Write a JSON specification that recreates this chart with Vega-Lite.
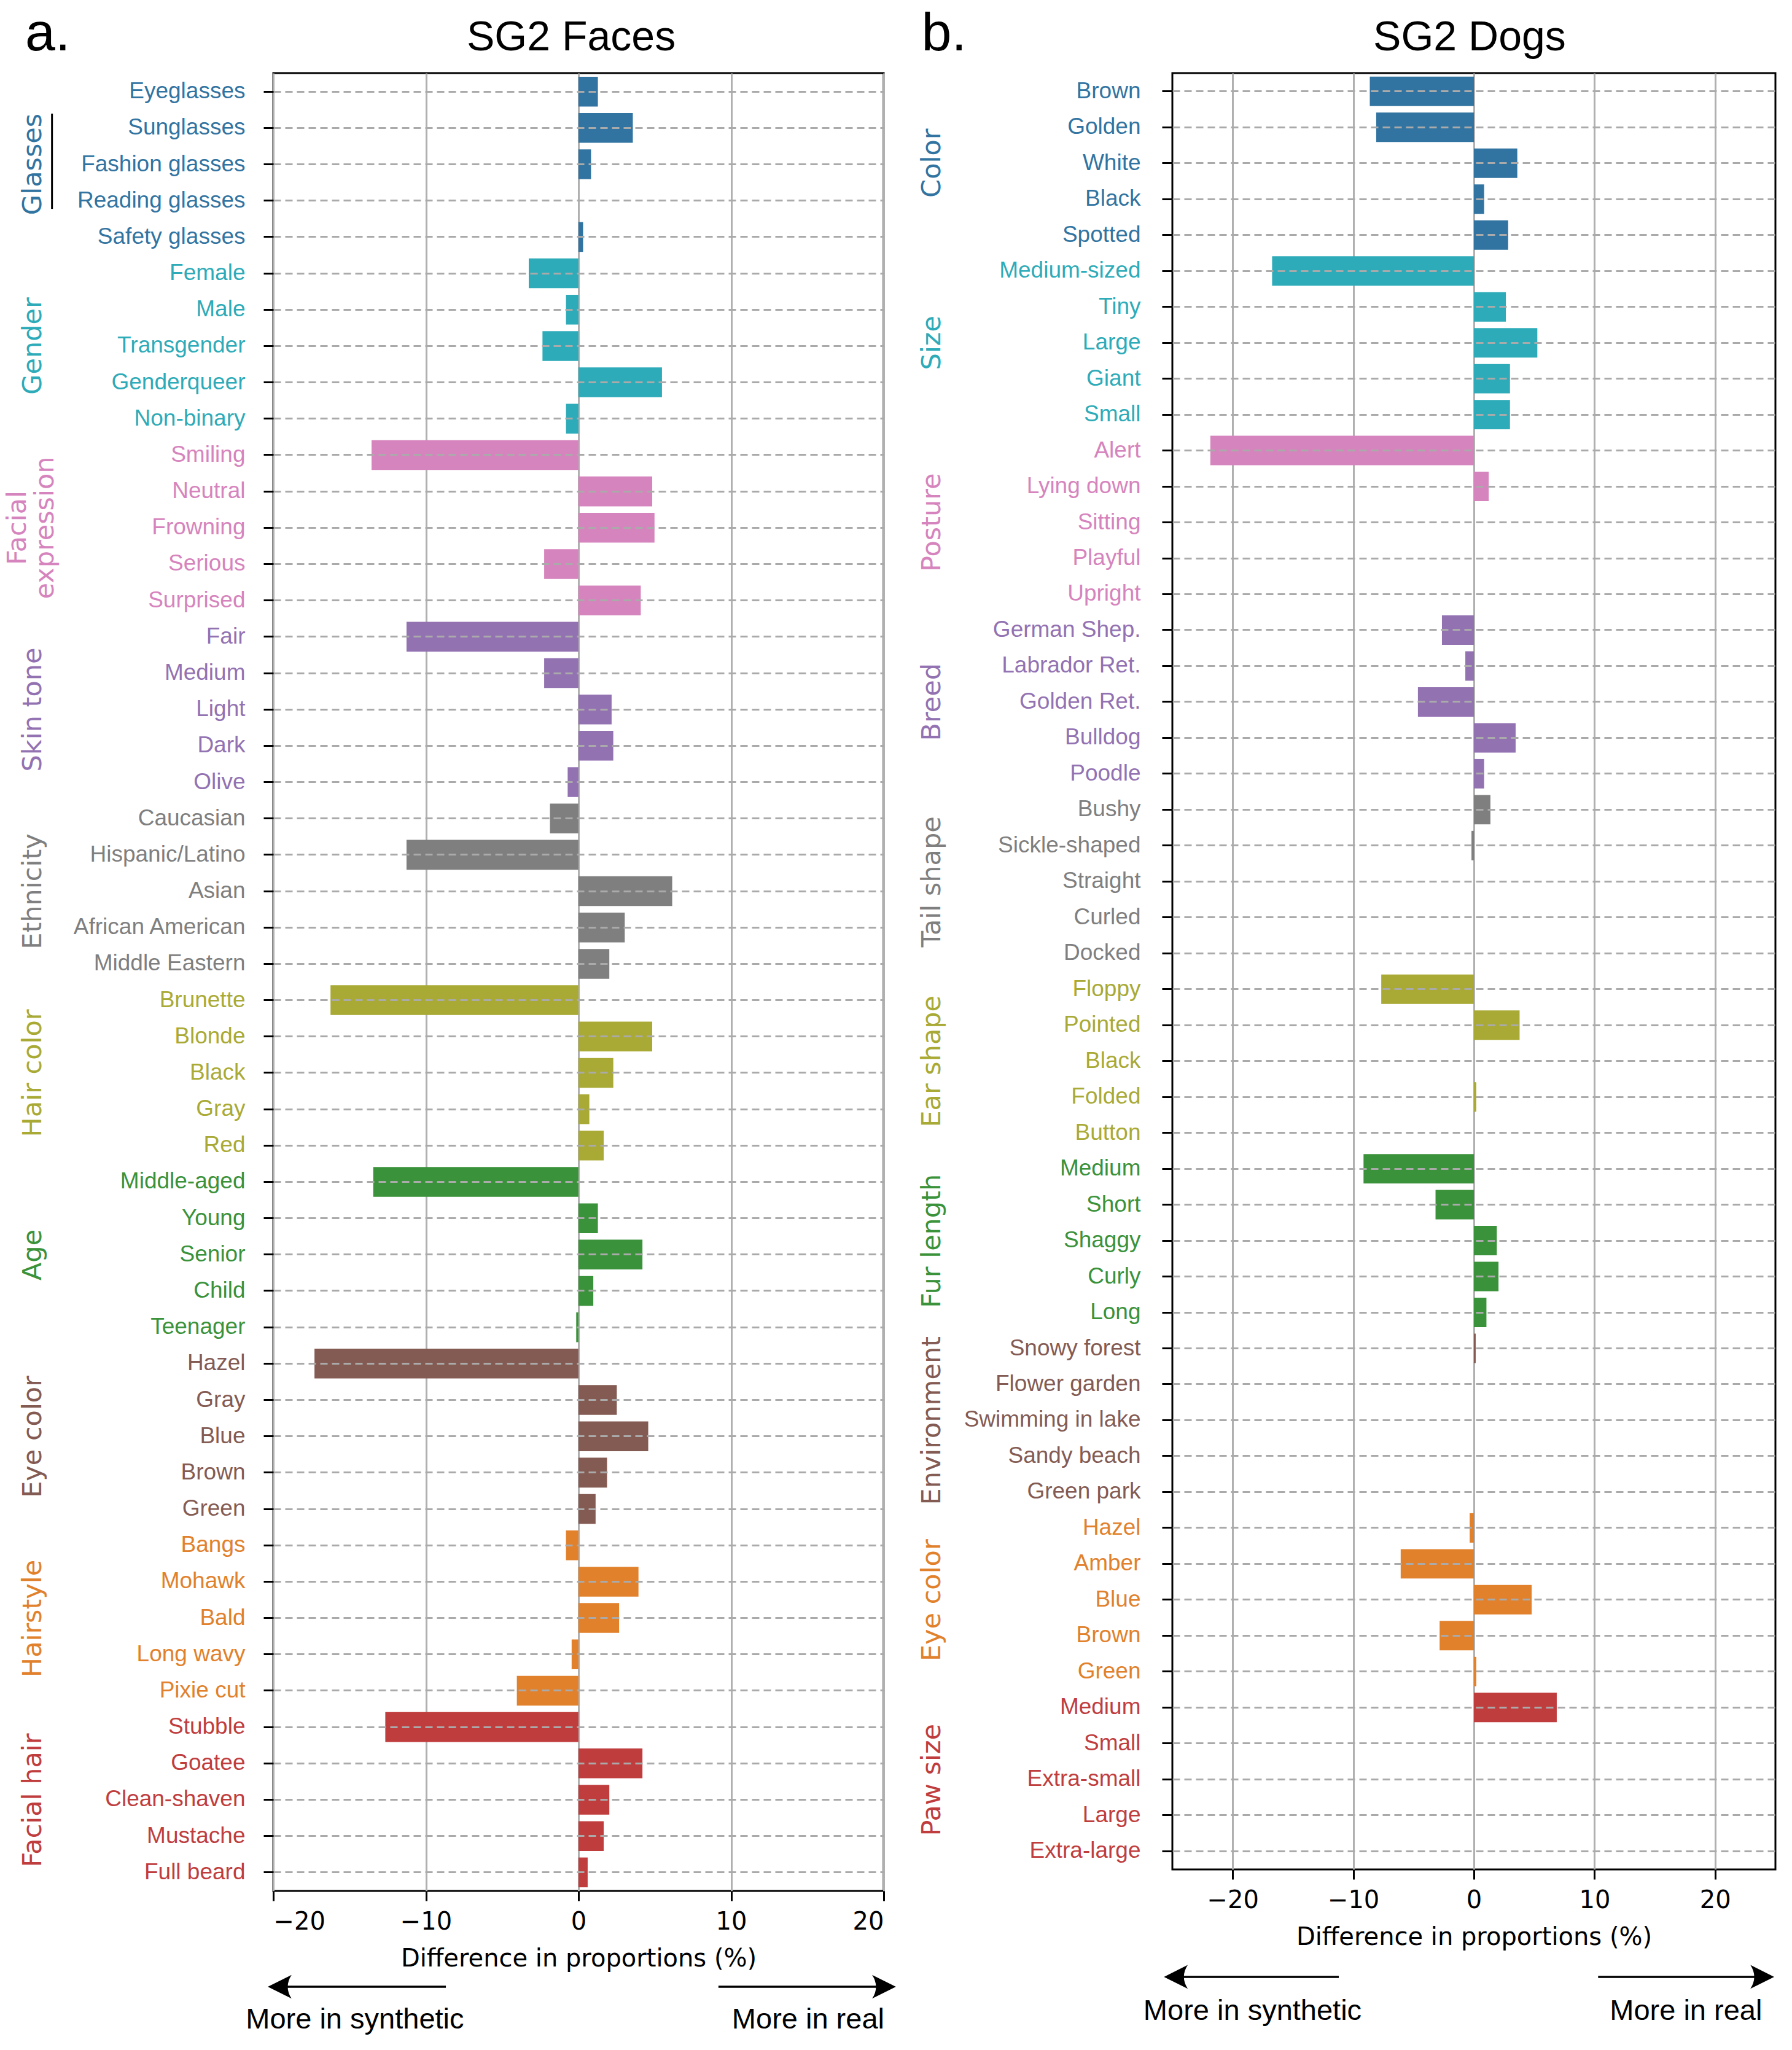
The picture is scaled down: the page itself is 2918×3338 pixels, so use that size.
{
  "$schema": "https://vega.github.io/schema/vega-lite/v6.json",
  "background": "white",
  "padding": {"left": 5, "top": 10, "right": 5, "bottom": 5},
  "spacing": 33,
  "resolve": {"scale": {"color": "independent"}},
  "config": {
    "view": {"stroke": "black", "strokeWidth": 3},
    "axisX": {"tickCount": 4, "grid": true, "gridColor": "#b0b0b0", "gridWidth": 3, "domain": false, "tickColor": "black", "tickSize": 16, "tickWidth": 3, "labelFont": "DejaVu Sans", "labelFontSize": 40, "labelColor": "black", "labelPadding": 14, "titleFont": "DejaVu Sans", "titleFontSize": 40, "titleFontWeight": "normal", "titleColor": "black", "titlePadding": 20, "zindex": 1}
  },
  "hconcat": [
    {
      "width": 994,
      "height": 2960,
      "data": {"values": [
        {"g": "Glasses", "i": "Eyeglasses", "k": "Glasses|Eyeglasses", "d": 1.27},
        {"g": "Glasses", "i": "Sunglasses", "k": "Glasses|Sunglasses", "d": 3.56},
        {"g": "Glasses", "i": "Fashion glasses", "k": "Glasses|Fashion glasses", "d": 0.82},
        {"g": "Glasses", "i": "Reading glasses", "k": "Glasses|Reading glasses", "d": 0},
        {"g": "Glasses", "i": "Safety glasses", "k": "Glasses|Safety glasses", "d": 0.3},
        {"g": "Gender", "i": "Female", "k": "Gender|Female", "d": -3.26},
        {"g": "Gender", "i": "Male", "k": "Gender|Male", "d": -0.82},
        {"g": "Gender", "i": "Transgender", "k": "Gender|Transgender", "d": -2.36},
        {"g": "Gender", "i": "Genderqueer", "k": "Gender|Genderqueer", "d": 5.47},
        {"g": "Gender", "i": "Non-binary", "k": "Gender|Non-binary", "d": -0.82},
        {"g": "Facial expression", "i": "Smiling", "k": "Facial expression|Smiling", "d": -13.56},
        {"g": "Facial expression", "i": "Neutral", "k": "Facial expression|Neutral", "d": 4.83},
        {"g": "Facial expression", "i": "Frowning", "k": "Facial expression|Frowning", "d": 4.98},
        {"g": "Facial expression", "i": "Serious", "k": "Facial expression|Serious", "d": -2.25},
        {"g": "Facial expression", "i": "Surprised", "k": "Facial expression|Surprised", "d": 4.08},
        {"g": "Skin tone", "i": "Fair", "k": "Skin tone|Fair", "d": -11.27},
        {"g": "Skin tone", "i": "Medium", "k": "Skin tone|Medium", "d": -2.25},
        {"g": "Skin tone", "i": "Light", "k": "Skin tone|Light", "d": 2.17},
        {"g": "Skin tone", "i": "Dark", "k": "Skin tone|Dark", "d": 2.28},
        {"g": "Skin tone", "i": "Olive", "k": "Skin tone|Olive", "d": -0.71},
        {"g": "Ethnicity", "i": "Caucasian", "k": "Ethnicity|Caucasian", "d": -1.87},
        {"g": "Ethnicity", "i": "Hispanic/Latino", "k": "Ethnicity|Hispanic/Latino", "d": -11.27},
        {"g": "Ethnicity", "i": "Asian", "k": "Ethnicity|Asian", "d": 6.14},
        {"g": "Ethnicity", "i": "African American", "k": "Ethnicity|African American", "d": 3.03},
        {"g": "Ethnicity", "i": "Middle Eastern", "k": "Ethnicity|Middle Eastern", "d": 2.02},
        {"g": "Hair color", "i": "Brunette", "k": "Hair color|Brunette", "d": -16.25},
        {"g": "Hair color", "i": "Blonde", "k": "Hair color|Blonde", "d": 4.83},
        {"g": "Hair color", "i": "Black", "k": "Hair color|Black", "d": 2.28},
        {"g": "Hair color", "i": "Gray", "k": "Hair color|Gray", "d": 0.71},
        {"g": "Hair color", "i": "Red", "k": "Hair color|Red", "d": 1.65},
        {"g": "Age", "i": "Middle-aged", "k": "Age|Middle-aged", "d": -13.45},
        {"g": "Age", "i": "Young", "k": "Age|Young", "d": 1.27},
        {"g": "Age", "i": "Senior", "k": "Age|Senior", "d": 4.19},
        {"g": "Age", "i": "Child", "k": "Age|Child", "d": 0.97},
        {"g": "Age", "i": "Teenager", "k": "Age|Teenager", "d": -0.15},
        {"g": "Eye color", "i": "Hazel", "k": "Eye color|Hazel", "d": -17.3},
        {"g": "Eye color", "i": "Gray", "k": "Eye color|Gray", "d": 2.51},
        {"g": "Eye color", "i": "Blue", "k": "Eye color|Blue", "d": 4.57},
        {"g": "Eye color", "i": "Brown", "k": "Eye color|Brown", "d": 1.87},
        {"g": "Eye color", "i": "Green", "k": "Eye color|Green", "d": 1.12},
        {"g": "Hairstyle", "i": "Bangs", "k": "Hairstyle|Bangs", "d": -0.82},
        {"g": "Hairstyle", "i": "Mohawk", "k": "Hairstyle|Mohawk", "d": 3.93},
        {"g": "Hairstyle", "i": "Bald", "k": "Hairstyle|Bald", "d": 2.66},
        {"g": "Hairstyle", "i": "Long wavy", "k": "Hairstyle|Long wavy", "d": -0.45},
        {"g": "Hairstyle", "i": "Pixie cut", "k": "Hairstyle|Pixie cut", "d": -4.04},
        {"g": "Facial hair", "i": "Stubble", "k": "Facial hair|Stubble", "d": -12.66},
        {"g": "Facial hair", "i": "Goatee", "k": "Facial hair|Goatee", "d": 4.19},
        {"g": "Facial hair", "i": "Clean-shaven", "k": "Facial hair|Clean-shaven", "d": 2.02},
        {"g": "Facial hair", "i": "Mustache", "k": "Facial hair|Mustache", "d": 1.65},
        {"g": "Facial hair", "i": "Full beard", "k": "Facial hair|Full beard", "d": 0.6}
      ]},
      "resolve": {"scale": {"y": "independent"}, "axis": {"y": "independent"}},
      "layer": [
        {
          "mark": {"type": "bar"},
          "encoding": {
            "y": {"field": "k", "type": "nominal", "sort": null,
              "scale": {"paddingInner": 0.18, "paddingOuter": 0.1},
              "axis": {"title": null, "orient": "left", "labelExpr": "split(datum.label, '|')[1]",
                "labelColor": {"expr": "['#3274a1','#2eabb8','#d684bd','#9372b2','#7f7f7f','#a9aa35','#3a923a','#845b53','#e1812c','#c03d3e'][indexof(['Glasses','Gender','Facial expression','Skin tone','Ethnicity','Hair color','Age','Eye color','Hairstyle','Facial hair'], split(datum.value, '|')[0])]"},
                "tickBand": "center", "grid": true, "gridDash": [12, 7], "gridColor": "#aaaaaa", "gridWidth": 3,
                "ticks": true, "tickColor": "black", "tickSize": 16, "tickWidth": 3,
                "labelFont": "Liberation Sans", "labelFontSize": 37, "labelPadding": 30, "labelLimit": 1000, "labelOverlap": false,
                "domain": false, "zindex": 1}},
            "x": {"field": "d", "type": "quantitative", "scale": {"domain": [-20, 20], "nice": false, "zero": false}, "title": "Difference in proportions (%)"},
            "x2": {"datum": 0},
            "color": {"field": "g", "type": "nominal", "legend": null,
              "scale": {"domain": ["Glasses","Gender","Facial expression","Skin tone","Ethnicity","Hair color","Age","Eye color","Hairstyle","Facial hair"],
                        "range": ["#3274a1","#2eabb8","#d684bd","#9372b2","#7f7f7f","#a9aa35","#3a923a","#845b53","#e1812c","#c03d3e"]}}
          }
        },
        {
          "mark": {"type": "point", "opacity": 0, "size": 1},
          "encoding": {
            "y": {"field": "g", "type": "nominal", "sort": null,
              "scale": {"paddingInner": 0, "paddingOuter": 0},
              "axis": {"title": null, "orient": "left", "offset": 360, "domain": false, "ticks": false, "tickSize": 0, "grid": false,
                "labelAngle": -90, "labelAlign": "center", "labelBaseline": "bottom",
                "labelPadding": {"expr": "datum.value == 'Facial expression' ? 35 : 10"},
                "labelFont": "DejaVu Sans", "labelFontSize": 43, "labelLimit": 0, "labelOverlap": false, "labelLineHeight": 45,
                "labelExpr": "datum.label == 'Facial expression' ? ['Facial', 'expression'] : datum.label",
                "labelColor": {"expr": "['#3274a1','#2eabb8','#d684bd','#9372b2','#7f7f7f','#a9aa35','#3a923a','#845b53','#e1812c','#c03d3e'][indexof(['Glasses','Gender','Facial expression','Skin tone','Ethnicity','Hair color','Age','Eye color','Hairstyle','Facial hair'], datum.value)]"}}},
            "x": {"datum": 0, "type": "quantitative"}
          }
        },
        {
          "data": {"values": [{"n": 1}]},
          "layer": [
            {"mark": {"type": "text", "align": "left", "baseline": "alphabetic", "font": "Liberation Sans", "fontSize": 88, "color": "black", "text": "a."},
             "encoding": {"x": {"datum": -36.26, "type": "quantitative"}, "y": {"datum": 1.0125, "type": "quantitative", "scale": {"domain": [0, 1], "nice": false, "zero": false}, "axis": null}}},
            {"mark": {"type": "text", "align": "center", "baseline": "alphabetic", "font": "Liberation Sans", "fontSize": 68, "color": "black", "text": "SG2 Faces"},
             "encoding": {"x": {"datum": -0.48, "type": "quantitative"}, "y": {"datum": 1.0125, "type": "quantitative"}}},
            {"mark": {"type": "rule", "strokeWidth": 3, "color": "black"},
             "encoding": {"x": {"datum": -34.5, "type": "quantitative"}, "y": {"datum": 0.9777, "type": "quantitative"}, "y2": {"datum": 0.9253}}},
            {"mark": {"type": "rule", "strokeWidth": 3.5, "color": "black"},
             "encoding": {"x": {"datum": -8.69, "type": "quantitative"}, "x2": {"datum": -19.3}, "y": {"datum": -0.0527, "type": "quantitative"}}},
            {"mark": {"type": "point", "shape": "M-1,0L1,-1Q0.35,0,1,1Z", "filled": true, "color": "black", "opacity": 1, "size": 1500, "strokeWidth": 0},
             "encoding": {"x": {"datum": -19.58, "type": "quantitative"}, "y": {"datum": -0.0527, "type": "quantitative"}}},
            {"mark": {"type": "rule", "strokeWidth": 3.5, "color": "black"},
             "encoding": {"x": {"datum": 9.17, "type": "quantitative"}, "x2": {"datum": 19.7}, "y": {"datum": -0.0527, "type": "quantitative"}}},
            {"mark": {"type": "point", "shape": "M1,0L-1,-1Q-0.35,0,-1,1Z", "filled": true, "color": "black", "opacity": 1, "size": 1500, "strokeWidth": 0},
             "encoding": {"x": {"datum": 20.02, "type": "quantitative"}, "y": {"datum": -0.0527, "type": "quantitative"}}},
            {"mark": {"type": "text", "align": "left", "baseline": "alphabetic", "font": "Liberation Sans", "fontSize": 47, "color": "black", "text": "More in synthetic"},
             "encoding": {"x": {"datum": -21.8, "type": "quantitative"}, "y": {"datum": -0.0757, "type": "quantitative"}}},
            {"mark": {"type": "text", "align": "right", "baseline": "alphabetic", "font": "Liberation Sans", "fontSize": 47, "color": "black", "text": "More in real"},
             "encoding": {"x": {"datum": 20.04, "type": "quantitative"}, "y": {"datum": -0.0757, "type": "quantitative"}}}
          ]
        }
      ]
    },
    {
      "width": 982,
      "height": 2925,
      "data": {"values": [
        {"g": "Color", "i": "Brown", "k": "Color|Brown", "d": -8.63},
        {"g": "Color", "i": "Golden", "k": "Color|Golden", "d": -8.1},
        {"g": "Color", "i": "White", "k": "Color|White", "d": 3.6},
        {"g": "Color", "i": "Black", "k": "Color|Black", "d": 0.85},
        {"g": "Color", "i": "Spotted", "k": "Color|Spotted", "d": 2.84},
        {"g": "Size", "i": "Medium-sized", "k": "Size|Medium-sized", "d": -16.73},
        {"g": "Size", "i": "Tiny", "k": "Size|Tiny", "d": 2.65},
        {"g": "Size", "i": "Large", "k": "Size|Large", "d": 5.26},
        {"g": "Size", "i": "Giant", "k": "Size|Giant", "d": 2.99},
        {"g": "Size", "i": "Small", "k": "Size|Small", "d": 2.99},
        {"g": "Posture", "i": "Alert", "k": "Posture|Alert", "d": -21.85},
        {"g": "Posture", "i": "Lying down", "k": "Posture|Lying down", "d": 1.23},
        {"g": "Posture", "i": "Sitting", "k": "Posture|Sitting", "d": 0},
        {"g": "Posture", "i": "Playful", "k": "Posture|Playful", "d": 0},
        {"g": "Posture", "i": "Upright", "k": "Posture|Upright", "d": 0},
        {"g": "Breed", "i": "German Shep.", "k": "Breed|German Shep.", "d": -2.65},
        {"g": "Breed", "i": "Labrador Ret.", "k": "Breed|Labrador Ret.", "d": -0.71},
        {"g": "Breed", "i": "Golden Ret.", "k": "Breed|Golden Ret.", "d": -4.64},
        {"g": "Breed", "i": "Bulldog", "k": "Breed|Bulldog", "d": 3.46},
        {"g": "Breed", "i": "Poodle", "k": "Breed|Poodle", "d": 0.85},
        {"g": "Tail shape", "i": "Bushy", "k": "Tail shape|Bushy", "d": 1.37},
        {"g": "Tail shape", "i": "Sickle-shaped", "k": "Tail shape|Sickle-shaped", "d": -0.2},
        {"g": "Tail shape", "i": "Straight", "k": "Tail shape|Straight", "d": 0},
        {"g": "Tail shape", "i": "Curled", "k": "Tail shape|Curled", "d": 0},
        {"g": "Tail shape", "i": "Docked", "k": "Tail shape|Docked", "d": 0},
        {"g": "Ear shape", "i": "Floppy", "k": "Ear shape|Floppy", "d": -7.68},
        {"g": "Ear shape", "i": "Pointed", "k": "Ear shape|Pointed", "d": 3.79},
        {"g": "Ear shape", "i": "Black", "k": "Ear shape|Black", "d": 0},
        {"g": "Ear shape", "i": "Folded", "k": "Ear shape|Folded", "d": 0.2},
        {"g": "Ear shape", "i": "Button", "k": "Ear shape|Button", "d": 0},
        {"g": "Fur length", "i": "Medium", "k": "Fur length|Medium", "d": -9.15},
        {"g": "Fur length", "i": "Short", "k": "Fur length|Short", "d": -3.18},
        {"g": "Fur length", "i": "Shaggy", "k": "Fur length|Shaggy", "d": 1.9},
        {"g": "Fur length", "i": "Curly", "k": "Fur length|Curly", "d": 2.04},
        {"g": "Fur length", "i": "Long", "k": "Fur length|Long", "d": 1.04},
        {"g": "Environment", "i": "Snowy forest", "k": "Environment|Snowy forest", "d": 0.15},
        {"g": "Environment", "i": "Flower garden", "k": "Environment|Flower garden", "d": 0},
        {"g": "Environment", "i": "Swimming in lake", "k": "Environment|Swimming in lake", "d": 0},
        {"g": "Environment", "i": "Sandy beach", "k": "Environment|Sandy beach", "d": 0},
        {"g": "Environment", "i": "Green park", "k": "Environment|Green park", "d": 0},
        {"g": "Eye color", "i": "Hazel", "k": "Eye color|Hazel", "d": -0.35},
        {"g": "Eye color", "i": "Amber", "k": "Eye color|Amber", "d": -6.07},
        {"g": "Eye color", "i": "Blue", "k": "Eye color|Blue", "d": 4.79},
        {"g": "Eye color", "i": "Brown", "k": "Eye color|Brown", "d": -2.84},
        {"g": "Eye color", "i": "Green", "k": "Eye color|Green", "d": 0.2},
        {"g": "Paw size", "i": "Medium", "k": "Paw size|Medium", "d": 6.87},
        {"g": "Paw size", "i": "Small", "k": "Paw size|Small", "d": 0},
        {"g": "Paw size", "i": "Extra-small", "k": "Paw size|Extra-small", "d": 0},
        {"g": "Paw size", "i": "Large", "k": "Paw size|Large", "d": 0},
        {"g": "Paw size", "i": "Extra-large", "k": "Paw size|Extra-large", "d": 0}
      ]},
      "resolve": {"scale": {"y": "independent"}, "axis": {"y": "independent"}},
      "layer": [
        {
          "mark": {"type": "bar"},
          "encoding": {
            "y": {"field": "k", "type": "nominal", "sort": null,
              "scale": {"paddingInner": 0.18, "paddingOuter": 0.1},
              "axis": {"title": null, "orient": "left", "labelExpr": "split(datum.label, '|')[1]",
                "labelColor": {"expr": "['#3274a1','#2eabb8','#d684bd','#9372b2','#7f7f7f','#a9aa35','#3a923a','#845b53','#e1812c','#c03d3e'][indexof(['Color','Size','Posture','Breed','Tail shape','Ear shape','Fur length','Environment','Eye color','Paw size'], split(datum.value, '|')[0])]"},
                "tickBand": "center", "grid": true, "gridDash": [12, 7], "gridColor": "#aaaaaa", "gridWidth": 3,
                "ticks": true, "tickColor": "black", "tickSize": 17, "tickWidth": 3,
                "labelFont": "Liberation Sans", "labelFontSize": 37, "labelPadding": 35, "labelLimit": 1000, "labelOverlap": false,
                "domain": false, "zindex": 1}},
            "x": {"field": "d", "type": "quantitative", "scale": {"domain": [-25, 25], "nice": false, "zero": false}, "title": "Difference in proportions (%)"},
            "x2": {"datum": 0},
            "color": {"field": "g", "type": "nominal", "legend": null,
              "scale": {"domain": ["Color","Size","Posture","Breed","Tail shape","Ear shape","Fur length","Environment","Eye color","Paw size"],
                        "range": ["#3274a1","#2eabb8","#d684bd","#9372b2","#7f7f7f","#a9aa35","#3a923a","#845b53","#e1812c","#c03d3e"]}}
          }
        },
        {
          "mark": {"type": "point", "opacity": 0, "size": 1},
          "encoding": {
            "y": {"field": "g", "type": "nominal", "sort": null,
              "scale": {"paddingInner": 0, "paddingOuter": 0},
              "axis": {"title": null, "orient": "left", "offset": 360, "domain": false, "ticks": false, "tickSize": 0, "grid": false,
                "labelAngle": -90, "labelAlign": "center", "labelBaseline": "bottom", "labelPadding": 10,
                "labelFont": "DejaVu Sans", "labelFontSize": 43, "labelLimit": 0, "labelOverlap": false,
                "labelColor": {"expr": "['#3274a1','#2eabb8','#d684bd','#9372b2','#7f7f7f','#a9aa35','#3a923a','#845b53','#e1812c','#c03d3e'][indexof(['Color','Size','Posture','Breed','Tail shape','Ear shape','Fur length','Environment','Eye color','Paw size'], datum.value)]"}}},
            "x": {"datum": 0, "type": "quantitative"}
          }
        },
        {
          "data": {"values": [{"n": 1}]},
          "layer": [
            {"mark": {"type": "text", "align": "left", "baseline": "alphabetic", "font": "Liberation Sans", "fontSize": 88, "color": "black", "text": "b."},
             "encoding": {"x": {"datum": -45.8, "type": "quantitative"}, "y": {"datum": 1.01265, "type": "quantitative", "scale": {"domain": [0, 1], "nice": false, "zero": false}, "axis": null}}},
            {"mark": {"type": "text", "align": "center", "baseline": "alphabetic", "font": "Liberation Sans", "fontSize": 68, "color": "black", "text": "SG2 Dogs"},
             "encoding": {"x": {"datum": -0.36, "type": "quantitative"}, "y": {"datum": 1.01265, "type": "quantitative"}}},
            {"mark": {"type": "rule", "strokeWidth": 3.5, "color": "black"},
             "encoding": {"x": {"datum": -11.2, "type": "quantitative"}, "x2": {"datum": -24.3}, "y": {"datum": -0.0598, "type": "quantitative"}}},
            {"mark": {"type": "point", "shape": "M-1,0L1,-1Q0.35,0,1,1Z", "filled": true, "color": "black", "opacity": 1, "size": 1500, "strokeWidth": 0},
             "encoding": {"x": {"datum": -24.71, "type": "quantitative"}, "y": {"datum": -0.0598, "type": "quantitative"}}},
            {"mark": {"type": "rule", "strokeWidth": 3.5, "color": "black"},
             "encoding": {"x": {"datum": 10.3, "type": "quantitative"}, "x2": {"datum": 23.5}, "y": {"datum": -0.0598, "type": "quantitative"}}},
            {"mark": {"type": "point", "shape": "M1,0L-1,-1Q-0.35,0,-1,1Z", "filled": true, "color": "black", "opacity": 1, "size": 1500, "strokeWidth": 0},
             "encoding": {"x": {"datum": 23.91, "type": "quantitative"}, "y": {"datum": -0.0598, "type": "quantitative"}}},
            {"mark": {"type": "text", "align": "left", "baseline": "alphabetic", "font": "Liberation Sans", "fontSize": 47, "color": "black", "text": "More in synthetic"},
             "encoding": {"x": {"datum": -27.4, "type": "quantitative"}, "y": {"datum": -0.0838, "type": "quantitative"}}},
            {"mark": {"type": "text", "align": "right", "baseline": "alphabetic", "font": "Liberation Sans", "fontSize": 47, "color": "black", "text": "More in real"},
             "encoding": {"x": {"datum": 23.9, "type": "quantitative"}, "y": {"datum": -0.0838, "type": "quantitative"}}}
          ]
        }
      ]
    }
  ]
}
